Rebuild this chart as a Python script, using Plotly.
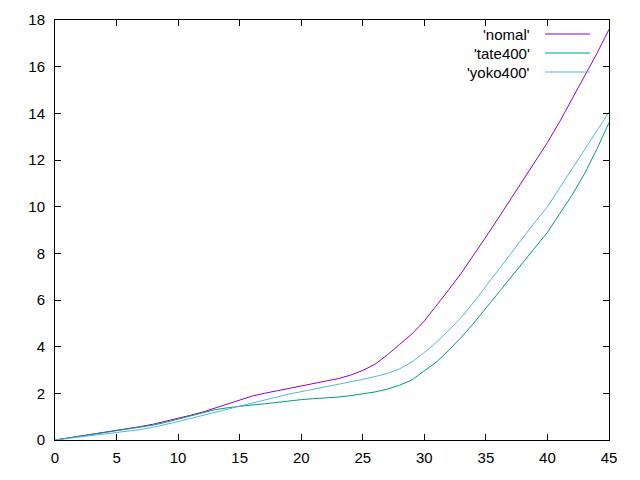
import plotly.graph_objects as go

x = list(range(0, 46))
nomal = [0, 0.08, 0.16, 0.24, 0.32, 0.41, 0.5, 0.58, 0.68, 0.8, 0.93, 1.06, 1.2, 1.37, 1.55, 1.74,
         1.88, 2.0, 2.1, 2.2, 2.3, 2.42, 2.52, 2.63, 2.78, 2.98, 3.25, 3.65, 4.1, 4.55, 5.1,
         5.75, 6.45, 7.15, 7.9, 8.7, 9.5, 10.3, 11.1, 11.9, 12.75, 13.65, 14.6, 15.55, 16.55, 17.6]
tate400 = [0, 0.08, 0.15, 0.23, 0.3, 0.37, 0.45, 0.54, 0.64, 0.76, 0.89, 1.02, 1.16, 1.3, 1.38, 1.45,
           1.5, 1.55, 1.62, 1.68, 1.73, 1.77, 1.8, 1.84, 1.9, 1.97, 2.06, 2.18, 2.35, 2.58, 2.95,
           3.35, 3.85, 4.4, 5.0, 5.65, 6.3, 6.95, 7.6, 8.25, 8.9, 9.7, 10.5, 11.4, 12.45, 13.6]
yoko400 = [0, 0.06, 0.13, 0.2, 0.26, 0.32, 0.38, 0.45, 0.55, 0.66, 0.79, 0.92, 1.06, 1.2, 1.33, 1.45,
           1.58, 1.72, 1.85, 1.97, 2.07, 2.17, 2.28, 2.38, 2.5, 2.6, 2.72, 2.85, 3.05, 3.35, 3.75,
           4.2, 4.7, 5.25, 5.9, 6.6, 7.3, 8.0, 8.7, 9.35, 10.0, 10.8, 11.6, 12.4, 13.2, 14.05]

names = ["'nomal'", "'tate400'", "'yoko400'"]
colors = ["#9400d3", "#009e73", "#56b4e9"]
series = [nomal, tate400, yoko400]

FONT = dict(size=15, color="black", family="Liberation Sans, Arial")

fig = go.Figure()
for name, col, ys in zip(names, colors, series):
    fig.add_trace(go.Scatter(x=x, y=ys, mode="lines", name=name,
                             line=dict(color=col, width=1), showlegend=False))

# manual gnuplot-style legend (text left of sample)
L, R, T, B = 55, 31, 20, 40
W, H = 640 - L - R, 480 - T - B
def px(xp): return (xp - L) / W
def py(yp): return (480 - B - yp) / H

rows = [34, 53, 72]
for name, col, ry in zip(names, colors, rows):
    fig.add_annotation(x=px(532), y=py(ry), xref="paper", yref="paper", text=name,
                       showarrow=False, xanchor="right", yanchor="middle", font=FONT)
    fig.add_shape(type="line", xref="paper", yref="paper", x0=px(545), x1=px(590),
                  y0=py(ry), y1=py(ry), line=dict(color=col, width=1))

axis_common = dict(showline=True, linecolor="black", linewidth=1, mirror="ticks",
                   ticks="inside", ticklen=6, tickcolor="black", showgrid=False,
                   zeroline=False, tickfont=FONT)
fig.update_xaxes(range=[0, 45], dtick=5, tick0=0, ticklabelstandoff=4, **axis_common)
fig.update_yaxes(range=[0, 18], dtick=2, tick0=0, ticklabelstandoff=6, **axis_common)

fig.update_layout(width=640, height=480, margin=dict(l=L, r=R, t=T, b=B),
                  paper_bgcolor="white", plot_bgcolor="white")

fig.write_html("out.html")
